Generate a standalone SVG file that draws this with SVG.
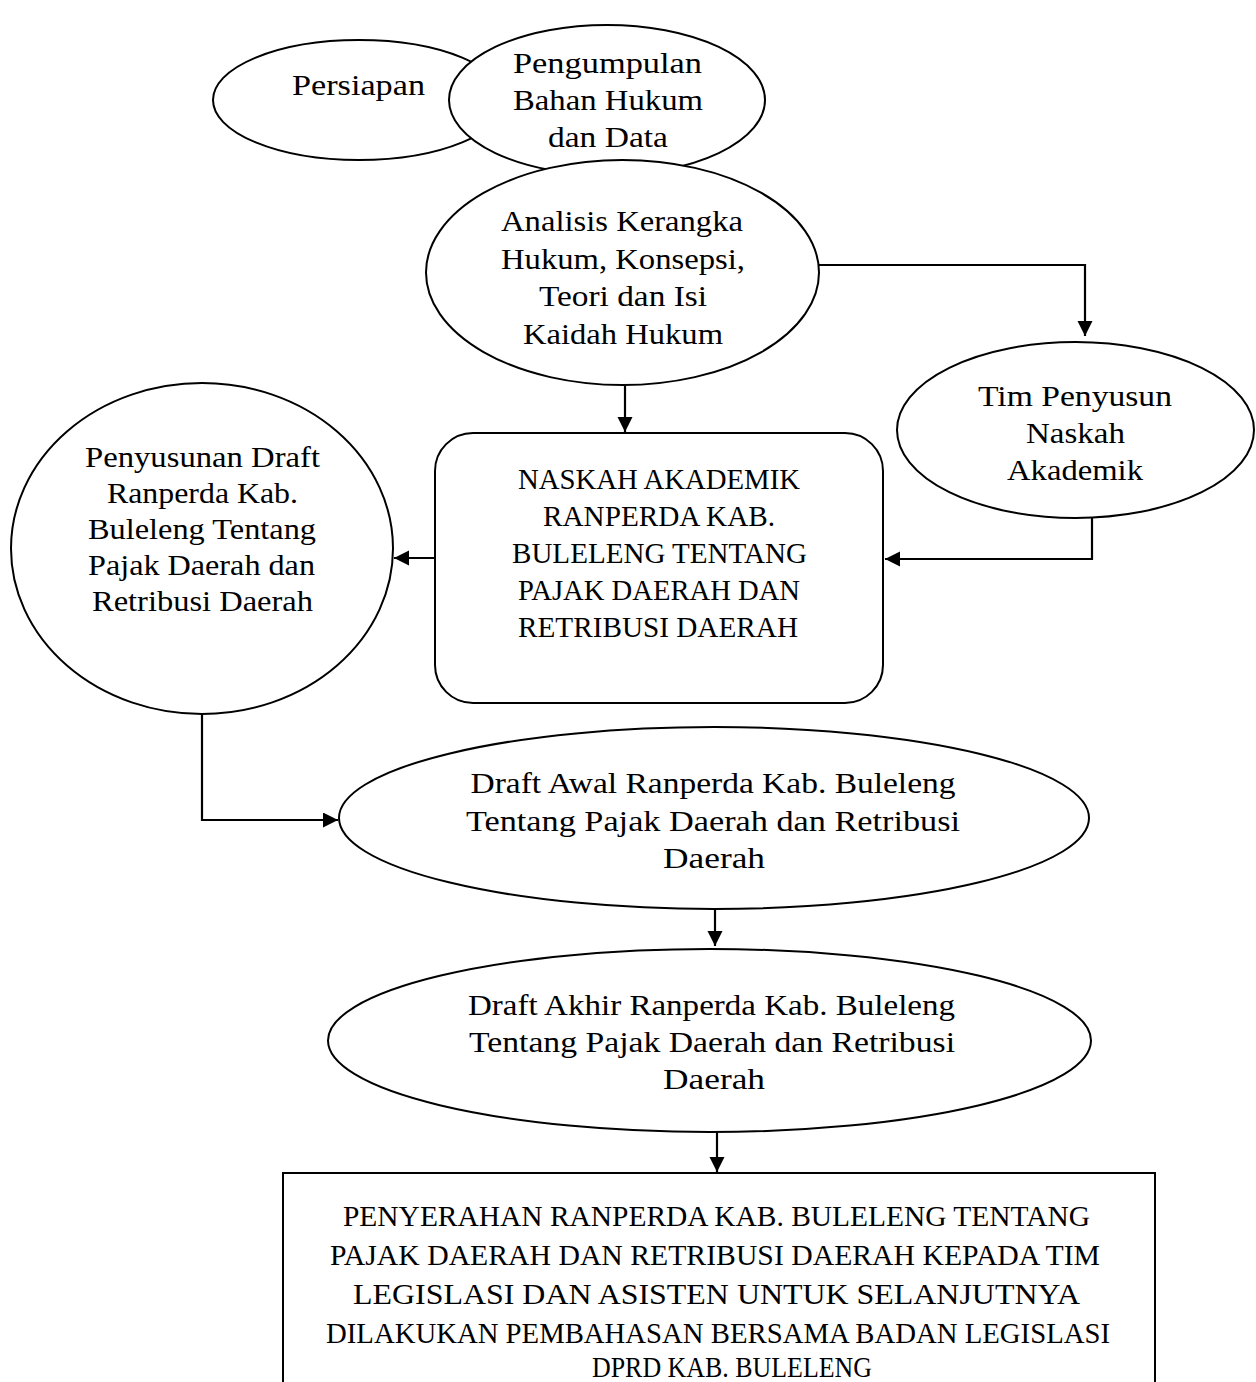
<svg xmlns="http://www.w3.org/2000/svg" width="1256" height="1382" viewBox="0 0 1256 1382">
<defs>
<style>
.shape{fill:#fff;stroke:#000;stroke-width:2}
.conn{fill:none;stroke:#000;stroke-width:2.2}
text{font-family:"Liberation Serif","DejaVu Serif",serif;font-size:30px;fill:#000;text-anchor:middle}
</style>
<marker id="ah" markerUnits="userSpaceOnUse" markerWidth="16" markerHeight="16" viewBox="0 0 16 16" refX="15" refY="7.5" orient="auto">
<path d="M0,0 L15,7.5 L0,15 z" fill="#000"/>
</marker>
</defs>
<rect width="1256" height="1382" fill="#fff"/>

<g id="persiapan">
<ellipse class="shape" cx="359" cy="100" rx="146" ry="60"/>
<text x="358.5" y="95" textLength="133" lengthAdjust="spacingAndGlyphs">Persiapan</text>
</g>

<g id="pengumpulan">
<ellipse class="shape" cx="607" cy="100" rx="158" ry="75"/>
<text x="607.5" y="73" textLength="189" lengthAdjust="spacingAndGlyphs">Pengumpulan</text>
<text x="608" y="110" textLength="190" lengthAdjust="spacingAndGlyphs">Bahan Hukum</text>
<text x="608" y="147" textLength="120" lengthAdjust="spacingAndGlyphs">dan Data</text>
</g>

<g id="analisis">
<ellipse class="shape" cx="622.5" cy="272.5" rx="196.5" ry="112.5"/>
<text x="622" y="231" textLength="242" lengthAdjust="spacingAndGlyphs">Analisis Kerangka</text>
<text x="623" y="268.5" textLength="244" lengthAdjust="spacingAndGlyphs">Hukum, Konsepsi,</text>
<text x="623" y="306" textLength="168" lengthAdjust="spacingAndGlyphs">Teori dan Isi</text>
<text x="623" y="343.5" textLength="200" lengthAdjust="spacingAndGlyphs">Kaidah Hukum</text>
</g>

<g id="tim">
<ellipse class="shape" cx="1075.5" cy="430" rx="178.5" ry="88"/>
<text x="1075" y="406" textLength="194" lengthAdjust="spacingAndGlyphs">Tim Penyusun</text>
<text x="1075.5" y="443" textLength="99" lengthAdjust="spacingAndGlyphs">Naskah</text>
<text x="1075" y="480" textLength="136" lengthAdjust="spacingAndGlyphs">Akademik</text>
</g>

<g id="naskah">
<rect class="shape" x="435" y="433" width="448" height="270" rx="38" ry="38"/>
<text x="659" y="489" textLength="282" lengthAdjust="spacingAndGlyphs">NASKAH AKADEMIK</text>
<text x="659" y="526" textLength="232" lengthAdjust="spacingAndGlyphs">RANPERDA KAB.</text>
<text x="659.5" y="563" textLength="295" lengthAdjust="spacingAndGlyphs">BULELENG TENTANG</text>
<text x="659" y="600" textLength="282" lengthAdjust="spacingAndGlyphs">PAJAK DAERAH DAN</text>
<text x="658" y="637" textLength="280" lengthAdjust="spacingAndGlyphs">RETRIBUSI DAERAH</text>
</g>

<g id="penyusunan">
<ellipse class="shape" cx="202" cy="548.5" rx="191" ry="165.5"/>
<text x="202.5" y="467" textLength="235" lengthAdjust="spacingAndGlyphs">Penyusunan Draft</text>
<text x="202.5" y="503" textLength="191" lengthAdjust="spacingAndGlyphs">Ranperda Kab.</text>
<text x="202" y="539" textLength="228" lengthAdjust="spacingAndGlyphs">Buleleng Tentang</text>
<text x="201.5" y="575" textLength="227" lengthAdjust="spacingAndGlyphs">Pajak Daerah dan</text>
<text x="202.5" y="611" textLength="221" lengthAdjust="spacingAndGlyphs">Retribusi Daerah</text>
</g>

<g id="draft-awal">
<ellipse class="shape" cx="714" cy="818" rx="375" ry="91"/>
<text x="713" y="793" textLength="485" lengthAdjust="spacingAndGlyphs">Draft Awal Ranperda Kab. Buleleng</text>
<text x="713" y="831" textLength="494" lengthAdjust="spacingAndGlyphs">Tentang Pajak Daerah dan Retribusi</text>
<text x="714" y="868" textLength="102" lengthAdjust="spacingAndGlyphs">Daerah</text>
</g>

<g id="draft-akhir">
<ellipse class="shape" cx="709.5" cy="1040.5" rx="381.5" ry="91.5"/>
<text x="711.5" y="1015" textLength="487" lengthAdjust="spacingAndGlyphs">Draft Akhir Ranperda Kab. Buleleng</text>
<text x="712" y="1052" textLength="486" lengthAdjust="spacingAndGlyphs">Tentang Pajak Daerah dan Retribusi</text>
<text x="714" y="1089" textLength="102" lengthAdjust="spacingAndGlyphs">Daerah</text>
</g>

<g id="penyerahan">
<rect class="shape" x="283" y="1173" width="872" height="240"/>
<text x="716.5" y="1226" textLength="747" lengthAdjust="spacingAndGlyphs">PENYERAHAN RANPERDA KAB. BULELENG TENTANG</text>
<text x="715" y="1265" textLength="770" lengthAdjust="spacingAndGlyphs">PAJAK DAERAH DAN RETRIBUSI DAERAH KEPADA TIM</text>
<text x="716.5" y="1304" textLength="727" lengthAdjust="spacingAndGlyphs">LEGISLASI DAN ASISTEN UNTUK SELANJUTNYA</text>
<text x="718" y="1343" textLength="784" lengthAdjust="spacingAndGlyphs">DILAKUKAN PEMBAHASAN BERSAMA BADAN LEGISLASI</text>
<text x="732" y="1377" textLength="280" lengthAdjust="spacingAndGlyphs">DPRD KAB. BULELENG</text>
</g>

<g id="connectors">
<path class="conn" d="M819,265 H1085 V336" marker-end="url(#ah)"/>
<path class="conn" d="M1092,518 V559 H885" marker-end="url(#ah)"/>
<path class="conn" d="M625,385 V432" marker-end="url(#ah)"/>
<path class="conn" d="M435,558 H394" marker-end="url(#ah)"/>
<path class="conn" d="M202,714 V820 H338" marker-end="url(#ah)"/>
<path class="conn" d="M715,909 V946" marker-end="url(#ah)"/>
<path class="conn" d="M717,1132 V1172" marker-end="url(#ah)"/>
</g>
</svg>
